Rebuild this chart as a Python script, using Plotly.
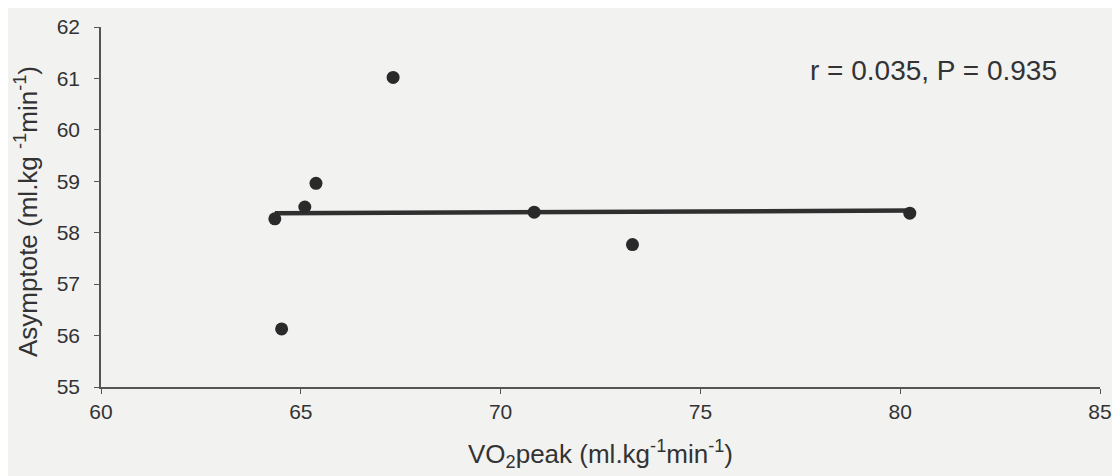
import plotly.graph_objects as go

# Data
vo2peak = [64.35, 64.52, 65.10, 65.38, 67.31, 70.84, 73.30, 80.24]
asymptote = [58.27, 56.13, 58.50, 58.96, 61.02, 58.40, 57.77, 58.38]
fit_x = [64.35, 80.24]
fit_y = [58.38, 58.43]
x_ticks = [60, 65, 70, 75, 80, 85]
y_ticks = [55, 56, 57, 58, 59, 60, 61, 62]
stat_text = "r = 0.035, P = 0.935"
x_title = "VO<sub>2</sub>peak (ml.kg<sup>-1</sup>min<sup>-1</sup>)"
y_title = "Asymptote (ml.kg <sup>-1</sup>min<sup>-1</sup>)"

bg = "#f2f2f1"
ink = "#2a2a2a"
txt = "#333333"
font_family = "Liberation Sans, Arial, sans-serif"

W, H = 1120, 476
L, R, T, B = 93, 28, 19, 97
pw, ph = W - L - R, H - T - B

fig = go.Figure()
fig.add_trace(go.Scatter(
    x=fit_x, y=fit_y, mode="lines",
    line=dict(color="#303030", width=4.5),
    showlegend=False, hoverinfo="skip"))
fig.add_trace(go.Scatter(
    x=vo2peak, y=asymptote, mode="markers",
    marker=dict(color=ink, size=13),
    showlegend=False))

def px_x(p):
    return (p - L) / pw

def px_y(p):
    return 1 - (p - T) / ph

fig.update_layout(
    width=W, height=H,
    paper_bgcolor=bg, plot_bgcolor=bg,
    margin=dict(l=L, r=R, t=T, b=B, autoexpand=False),
    font=dict(family=font_family, size=21, color=txt),
    annotations=[
        dict(text=stat_text, xref="paper", yref="paper",
             x=px_x(925), y=px_y(62), xanchor="center", yanchor="middle",
             showarrow=False, font=dict(size=28, color=txt)),
        dict(text=x_title, xref="paper", yref="paper",
             x=px_x(592), y=px_y(446), xanchor="center", yanchor="middle",
             showarrow=False, font=dict(size=26, color=txt)),
        dict(text=y_title, xref="paper", yref="paper", textangle=-90,
             x=px_x(19), y=px_y(204), xanchor="center", yanchor="middle",
             showarrow=False, font=dict(size=26, color=txt)),
    ],
)
fig.update_xaxes(
    range=[60, 85], tickvals=x_ticks, ticktext=[str(v) for v in x_ticks],
    showgrid=False, zeroline=False, automargin=False,
    showline=True, linecolor="#555555", linewidth=1.5,
    ticks="outside", ticklen=5, tickcolor="#555555", tickwidth=1.2,
    ticklabelstandoff=0,
    tickfont=dict(size=21, color=txt),
)
fig.update_yaxes(
    range=[55, 62], tickvals=y_ticks, ticktext=[str(v) for v in y_ticks],
    showgrid=False, zeroline=False, automargin=False,
    showline=True, linecolor="#555555", linewidth=1.5,
    ticks="outside", ticklen=5, tickcolor="#555555", tickwidth=1.2,
    ticklabelstandoff=10,
    tickfont=dict(size=21, color=txt),
)

fig.write_html("out.html")
